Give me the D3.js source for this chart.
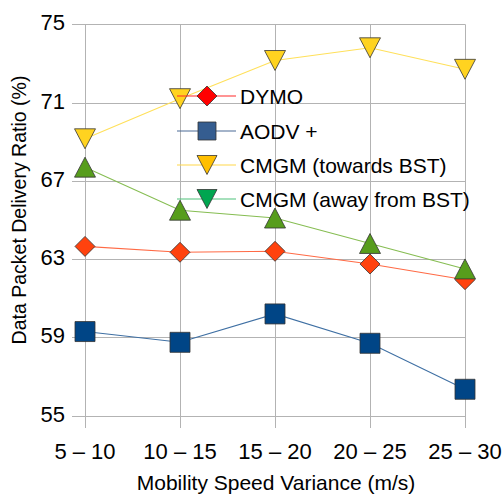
<!DOCTYPE html>
<html>
<head>
<meta charset="utf-8">
<script src="https://cdn.jsdelivr.net/npm/d3@7"></script>
<style>
  html, body { margin: 0; padding: 0; background: #ffffff; }
  svg { display: block; font-family: "Liberation Sans", Arial, sans-serif; }
</style>
</head>
<body>
<svg id="chart" width="502" height="497"></svg>
<script>
const categories = ["5 – 10", "10 – 15", "15 – 20", "20 – 25", "25 – 30"];
const yTicks = [55, 59, 63, 67, 71, 75];
const seriesNames = ["DYMO", "AODV +", "CMGM (towards BST)", "CMGM (away from BST)"];
const dymo = [63.65, 63.35, 63.4, 62.75, 61.95];
const aodv = [59.3, 58.75, 60.2, 58.7, 56.35];
const cmgmTowards = [69.15, 71.2, 73.15, 73.8, 72.7];
const cmgmAway = [67.7, 65.5, 65.1, 63.8, 62.5];

const svg = d3.select("#chart");
const x = d3.scalePoint().domain(categories).range([85, 465]).padding(0);
const y = d3.scaleLinear().domain([55, 75]).range([415.7, 24.3]);

const grid = "#b3b3b3";
// horizontal gridlines
svg.append("g").selectAll("line").data(yTicks).join("line")
  .attr("x1", 72).attr("x2", 465)
  .attr("y1", d => Math.round(y(d)) + 0.5).attr("y2", d => Math.round(y(d)) + 0.5)
  .attr("stroke", grid).attr("stroke-width", 1);
// vertical gridlines
svg.append("g").selectAll("line").data(categories).join("line")
  .attr("x1", d => Math.round(x(d)) + 0.5).attr("x2", d => Math.round(x(d)) + 0.5)
  .attr("y1", y(75)).attr("y2", 428)
  .attr("stroke", grid).attr("stroke-width", 1);

// y tick labels
svg.append("g").selectAll("text").data(yTicks).join("text")
  .attr("x", 65).attr("y", d => y(d) + 6)
  .attr("text-anchor", "end").attr("font-size", 22).attr("fill", "#000")
  .text(d => d);
// x tick labels
svg.append("g").selectAll("text").data(categories).join("text")
  .attr("x", d => x(d)).attr("y", 459)
  .attr("text-anchor", "middle").attr("font-size", 22).attr("fill", "#000")
  .text(d => d);

// axis titles
svg.append("text").attr("x", 276).attr("y", 490).attr("text-anchor", "middle")
  .attr("font-size", 21).text("Mobility Speed Variance (m/s)");
svg.append("text").attr("transform", "translate(26,210) rotate(-90)")
  .attr("text-anchor", "middle").attr("font-size", 19.5).text("Data Packet Delivery Ratio (%)");

const sym = {
  diamond: s => `M0,${-s}L${s},0L0,${s}L${-s},0Z`,
  square: s => `M${-s},${-s}H${s}V${s}H${-s}Z`,
  tri: s => `M0,${-s*0.95}L${s},${s*0.95}L${-s},${s*0.95}Z`,
  triDown: s => `M${-s},${-s*0.95}L${s},${-s*0.95}L0,${s*0.95}Z`
};

const series = [
  { name: seriesNames[0], values: dymo, line: "#ff6a45", fill: "#ff420e", shape: "diamond", size: 10, lgLine: "#ff2a2a", lgFill: "#ff0000", lgShape: "diamond" },
  { name: seriesNames[1], values: aodv, line: "#3e6fa3", fill: "#004586", shape: "square", size: 10, lgLine: "#4a6a96", lgFill: "#355d90", lgShape: "square" },
  { name: seriesNames[2], values: cmgmTowards, line: "#ffe05a", fill: "#ffd320", shape: "triDown", size: 10.5, lgLine: "#ffd84a", lgFill: "#ffbf00", lgShape: "triDown" },
  { name: seriesNames[3], values: cmgmAway, line: "#86bd52", fill: "#579d1c", shape: "tri", size: 10.5, lgLine: "#4fc27a", lgFill: "#00a650", lgShape: "triDown" }
];

const lineGen = d3.line().x((d, i) => x(categories[i])).y(d => y(d));

series.forEach(s => {
  const g = svg.append("g");
  g.append("path").attr("d", lineGen(s.values)).attr("fill", "none")
    .attr("stroke", s.line).attr("stroke-width", 1.1);
  g.selectAll("path.m").data(s.values).join("path").attr("class", "m")
    .attr("transform", (d, i) => `translate(${x(categories[i])},${y(d)})`)
    .attr("d", sym[s.shape](s.size))
    .attr("fill", s.fill).attr("stroke", "#333").attr("stroke-width", 0.8);
});

// legend
const lgY = [96, 131, 165, 199];
const lg = svg.append("g");
series.forEach((s, i) => {
  const yy = lgY[i];
  lg.append("line").attr("x1", 177).attr("x2", 236).attr("y1", yy).attr("y2", yy)
    .attr("stroke", s.lgLine).attr("stroke-width", 1.1);
  lg.append("path").attr("transform", `translate(207,${yy})`)
    .attr("d", sym[s.lgShape](s.lgShape === "square" ? 9 : 10))
    .attr("fill", s.lgFill).attr("stroke", "#333").attr("stroke-width", 0.8);
  lg.append("text").attr("x", 240).attr("y", yy + 7.5).attr("font-size", 21)
    .attr("fill", "#000").text(s.name);
});
</script>
</body>
</html>
